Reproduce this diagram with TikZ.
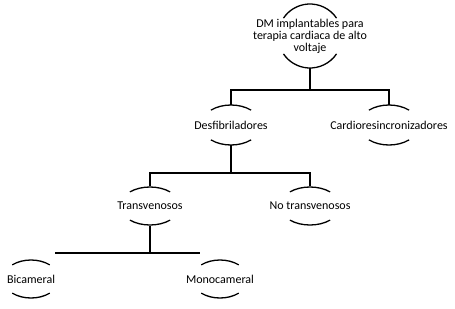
\documentclass[tikz,border=0pt]{standalone}
\usepackage{fontspec}
\setmainfont{Carlito}
\usetikzlibrary{shapes.geometric,calc}
\newcommand{\twoarcs}[4]{%
  \draw[arcline] ($(#1.center)+(-#4:#2 and #3)$) arc[start angle=-#4,end angle=-180+#4,x radius=#2,y radius=#3];
  \draw[arcline] ($(#1.center)+(#4:#2 and #3)$) arc[start angle=#4,end angle=180-#4,x radius=#2,y radius=#3];}
\begin{document}
\begin{tikzpicture}[x=1pt,y=-1pt,
  every node/.style={font=\fontsize{12}{12}\selectfont},
  leaf/.style={ellipse,minimum width=60pt,minimum height=40pt,inner sep=1pt,align=center},
  rootnode/.style={ellipse,minimum width=64pt,minimum height=64pt,inner sep=1pt,align=center},
  arcline/.style={line width=1.3pt},
  conn/.style={line width=1.6pt}]
\useasboundingbox (0,0) rectangle (455,308);
\node[rootnode] (root) at (310,36) {DM implantables para\\terapia cardiaca de alto\\voltaje};
\twoarcs{root}{32}{32}{34}
\node[leaf] (des) at (231,125) {Desfibriladores};
\node[leaf] (card) at (389,125) {Cardioresincronizadores};
\twoarcs{des}{30}{20}{48}
\twoarcs{card}{30}{20}{48}
\node[leaf] (trans) at (150,206) {Transvenosos};
\node[leaf] (notrans) at (310,206) {No transvenosos};
\twoarcs{trans}{30}{19}{48}
\twoarcs{notrans}{30}{19}{48}
\node[leaf] (bic) at (31,279) {Bicameral};
\node[leaf] (mono) at (220,279) {Monocameral};
\twoarcs{bic}{28}{19}{48}
\twoarcs{mono}{28}{19}{48}
\coordinate (j1) at (310,90);
\coordinate (j2) at (231,173);
\coordinate (j3l) at (55,253);
\coordinate (j3r) at (200,253);
\draw[conn] (root.south) -- (j1);
\draw[conn] (des.north) -- (des.north |- j1) -- (card.north |- j1) -- (card.north);
\draw[conn] (des.south) -- (j2);
\draw[conn] (trans.north) -- (trans.north |- j2) -- (notrans.north |- j2) -- (notrans.north);
\draw[conn] (trans.south) -- (trans.south |- j3l);
\draw[conn] (j3l) -- (j3r);
\end{tikzpicture}
\end{document}
